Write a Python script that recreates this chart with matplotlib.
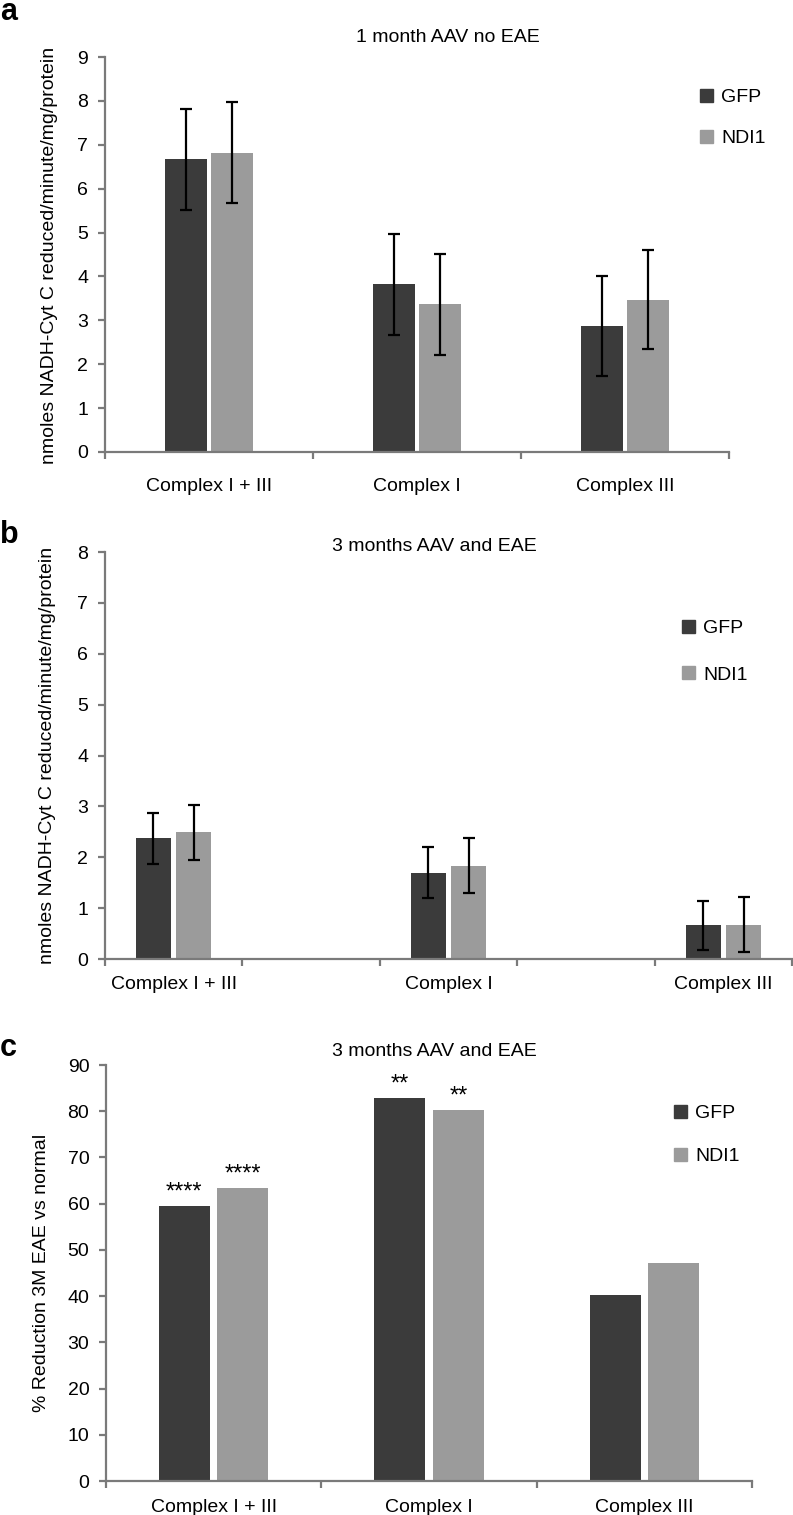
import numpy as np
import matplotlib
matplotlib.use("Agg")
import matplotlib.pyplot as plt
from matplotlib.patches import Patch

plt.rcParams["font.family"] = ["Liberation Sans", "DejaVu Sans"]

W, H = 793, 1515
FS = 14
DARK = "#3b3b3b"
LIGHT = "#9b9b9b"
AXIS_GREY = "#7a7a7a"

# panel a: 1 month AAV no EAE
cats_a = ["Complex I + III", "Complex I", "Complex III"]
gfp_a = [6.67, 3.82, 2.87]
gfp_err_a = [1.15, 1.15, 1.14]
ndi_a = [6.82, 3.37, 3.47]
ndi_err_a = [1.15, 1.15, 1.13]

# panel b: 3 months AAV and EAE (empty slots between groups)
cats_b = ["Complex I + III", "", "Complex I", "", "Complex III"]
gfp_b = [2.37, np.nan, 1.70, np.nan, 0.66]
gfp_err_b = [0.50, np.nan, 0.50, np.nan, 0.48]
ndi_b = [2.49, np.nan, 1.83, np.nan, 0.67]
ndi_err_b = [0.54, np.nan, 0.54, np.nan, 0.54]

# panel c: % reduction
cats_c = ["Complex I + III", "Complex I", "Complex III"]
gfp_c = [59.5, 82.9, 40.3]
ndi_c = [63.4, 80.3, 47.2]
stars_gfp = ["****", "**", ""]
stars_ndi = ["****", "**", ""]

fig = plt.figure(figsize=(W / 100, H / 100), dpi=100)


def px_axes(left, right, top, bottom):
    return fig.add_axes([left / W, 1 - bottom / H, (right - left) / W, (bottom - top) / H])


def style(ax, n, ymax, step, label_pad):
    for s in ("top", "right"):
        ax.spines[s].set_visible(False)
    for s in ("left", "bottom"):
        ax.spines[s].set_color(AXIS_GREY)
        ax.spines[s].set_linewidth(1.6)
    ax.set_xlim(-0.5, n - 0.5)
    ax.set_ylim(0, ymax)
    ax.set_yticks(np.arange(0, ymax + step / 2, step))
    ax.tick_params(axis="y", length=5, width=1.6, color=AXIS_GREY, pad=7, labelsize=FS)
    ax.set_xticks(np.arange(n))
    ax.set_xticks(np.arange(n + 1) - 0.5, minor=True)
    ax.tick_params(axis="x", which="major", length=0, pad=label_pad, labelsize=FS)
    ax.tick_params(axis="x", which="minor", length=5, width=1.6, color=AXIS_GREY)


def bars(ax, gfp, ndi, width, gap, gfp_err=None, ndi_err=None):
    x = np.arange(len(gfp))
    off = (width + gap) / 2
    ek = dict(ecolor="black", elinewidth=1.6, capsize=4, capthick=1.6)
    ax.bar(x - off, gfp, width, color=DARK, yerr=gfp_err, error_kw=ek, label="GFP")
    ax.bar(x + off, ndi, width, color=LIGHT, yerr=ndi_err, error_kw=ek, label="NDI1")
    return x, off


def legend(ax, x, y, spacing):
    handles = [Patch(color=DARK, label="GFP"), Patch(color=LIGHT, label="NDI1")]
    ax.legend(handles=handles, loc="upper left", bbox_to_anchor=(x / W, 1 - y / H),
              bbox_transform=fig.transFigure, frameon=False, fontsize=FS,
              handlelength=0.65, handleheight=0.65, handletextpad=0.45,
              labelspacing=spacing, borderpad=0, borderaxespad=0)


# ---- panel a
ax_a = px_axes(105, 729, 57, 452)
bars(ax_a, gfp_a, ndi_a, 0.2, 0.02, gfp_err_a, ndi_err_a)
style(ax_a, 3, 9, 1, 19)
ax_a.set_xticklabels(cats_a)
legend(ax_a, 700, 89, 1.2)
fig.text(448 / W, 1 - 38 / H, "1 month AAV no EAE", ha="center", va="center", fontsize=FS)
fig.text(50 / W, 1 - 255 / H, "nmoles NADH-Cyt C reduced/minute/mg/protein",
         rotation=90, ha="center", va="center", fontsize=FS)
fig.text(0, 1 - 12 / H, "a", ha="left", va="center", fontsize=22, fontweight="bold")

# ---- panel b
ax_b = px_axes(105, 792, 552, 959)
bars(ax_b, gfp_b, ndi_b, 0.255, 0.04, gfp_err_b, ndi_err_b)
style(ax_b, 5, 8, 1, 12)
ax_b.set_xticklabels(cats_b)
legend(ax_b, 682, 620, 1.5)
fig.text(434 / W, 1 - 547 / H, "3 months AAV and EAE", ha="center", va="center", fontsize=FS)
fig.text(48 / W, 1 - 755 / H, "nmoles NADH-Cyt C reduced/minute/mg/protein",
         rotation=90, ha="center", va="center", fontsize=FS)
fig.text(0, 1 - 535 / H, "b", ha="left", va="center", fontsize=22, fontweight="bold")

# ---- panel c
ax_c = px_axes(106, 752, 1065, 1481)
x_c, off_c = bars(ax_c, gfp_c, ndi_c, 0.237, 0.035)
style(ax_c, 3, 90, 10, 13)
ax_c.set_xticklabels(cats_c)
for xi, v, s in zip(x_c - off_c, gfp_c, stars_gfp):
    ax_c.text(xi, v + 0.6, s, ha="center", va="bottom", fontsize=17)
for xi, v, s in zip(x_c + off_c, ndi_c, stars_ndi):
    ax_c.text(xi, v + 0.6, s, ha="center", va="bottom", fontsize=17)
legend(ax_c, 674, 1105, 1.3)
fig.text(434 / W, 1 - 1052 / H, "3 months AAV and EAE", ha="center", va="center", fontsize=FS)
fig.text(42 / W, 1 - 1273 / H, "% Reduction 3M EAE vs normal",
         rotation=90, ha="center", va="center", fontsize=FS)
fig.text(0, 1 - 1048 / H, "c", ha="left", va="center", fontsize=22, fontweight="bold")

fig.savefig("out.png", dpi=100)
